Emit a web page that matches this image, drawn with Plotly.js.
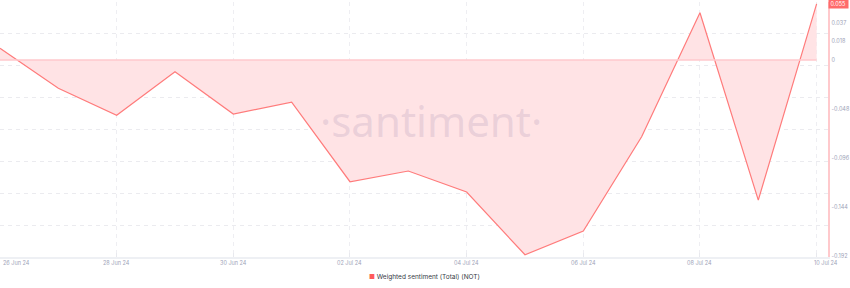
<!DOCTYPE html>
<html>
<head>
<meta charset="utf-8">
<script src="https://cdn.plot.ly/plotly-3.0.1.min.js"></script>
<style>
  html, body { margin: 0; padding: 0; background: #fff; }
  #chart { width: 850px; height: 288px; }
</style>
</head>
<body>
<div id="chart"></div>
<script>
// Daily weighted sentiment for NOT
const dates = [
  '2024-06-26', '2024-06-27', '2024-06-28', '2024-06-29', '2024-06-30',
  '2024-07-01', '2024-07-02', '2024-07-03', '2024-07-04', '2024-07-05',
  '2024-07-06', '2024-07-07', '2024-07-08', '2024-07-09', '2024-07-10'
];
const sentiment = [
  0.0115, -0.0277, -0.0542, -0.0115, -0.0529,
  -0.0412, -0.1193, -0.1088, -0.1294, -0.1909,
  -0.1676, -0.0752, 0.0464, -0.1373, 0.055
];
const seriesName = 'Weighted sentiment (Total) (NOT)';

// Axis labels
const yTickVals = [0.0367, 0.0183, 0, -0.048, -0.096, -0.144, -0.192];
const yTickText = ['0.037', '0.018', '0', '-0.048', '-0.096', '-0.144', '-0.192'];
const xTickVals = ['2024-06-26', '2024-06-28', '2024-06-30', '2024-07-02', '2024-07-04', '2024-07-06', '2024-07-08', '2024-07-10'];
const xTickText = ['26 Jun 24', '28 Jun 24', '30 Jun 24', '02 Jul 24', '04 Jul 24', '06 Jul 24', '08 Jul 24', '10 Jul 24'];

const LINE = '#ff7b7b';
const FILL = '#ffe3e5';
const AXIS_TXT = '#9ea3b8';
const FONT = 'Inter, "Open Sans", sans-serif';

const traces = [
  {
    x: dates, y: sentiment, name: seriesName,
    type: 'scatter', mode: 'lines',
    line: { color: LINE, width: 1.2 },
    fill: 'tozeroy', fillcolor: FILL,
    showlegend: false, hoverinfo: 'x+y'
  },
  // invisible helper on a second axis that carries the evenly spaced grid
  { x: [dates[0]], y: [0], yaxis: 'y2', mode: 'markers', marker: { opacity: 0 }, showlegend: false, hoverinfo: 'skip' }
];

const last = sentiment[sentiment.length - 1];
const annotations = [];

// watermark
annotations.push({
  xref: 'paper', yref: 'paper', x: 0.52, y: 0.535, xanchor: 'center', yanchor: 'middle',
  text: '·santiment·', showarrow: false,
  font: { family: '"Noto Sans", sans-serif', size: 42, color: 'rgba(150,130,170,0.2)' }
});

// x tick labels
xTickVals.forEach((d, i) => {
  let xanchor = 'center', xshift = 0;
  if (i === 0) { xanchor = 'left'; xshift = 1; }
  if (i === xTickVals.length - 1) { xshift = 9; }
  annotations.push({
    xref: 'x', yref: 'paper', x: d, y: 0, yanchor: 'top', xanchor: xanchor,
    xshift: xshift, yshift: -1, showarrow: false, text: xTickText[i],
    font: { family: FONT, size: 5.5, color: AXIS_TXT }
  });
});

// current value marker on the right axis
annotations.push({
  xref: 'paper', yref: 'y', x: 1, y: last, xanchor: 'left', yanchor: 'middle',
  xshift: 0, showarrow: false, text: last.toFixed(3),
  bgcolor: '#ff6b6b', borderpad: 1.5,
  font: { family: FONT, size: 5.5, color: '#ffffff' }
});

// legend
annotations.push({
  xref: 'paper', yref: 'paper', x: 0.513, y: -0.078, xanchor: 'center', yanchor: 'middle',
  showarrow: false,
  text: '<span style="color:#ff5a5a">■</span> ' + seriesName,
  font: { family: FONT, size: 6.5, color: '#353a45' }
});

const layout = {
  width: 850, height: 288,
  margin: { l: 0, r: 22, t: 2, b: 31, pad: 0 },
  paper_bgcolor: '#ffffff', plot_bgcolor: '#ffffff',
  font: { family: FONT, size: 5.5, color: AXIS_TXT },
  xaxis: {
    type: 'date',
    range: ['2024-06-26 00:00', '2024-07-10 04:41'],
    tickvals: xTickVals, showticklabels: false,
    showgrid: true, gridcolor: '#eeeef2', griddash: '4px,4px', gridwidth: 1,
    ticks: 'inside', ticklen: 4, tickcolor: '#e8e9ee',
    showline: true, linecolor: '#eef0f4', linewidth: 2,
    zeroline: false, fixedrange: true
  },
  yaxis: {
    side: 'right', range: [-0.1931, 0.0569],
    tickvals: yTickVals, ticktext: yTickText,
    showgrid: false, zeroline: false,
    showline: true, linecolor: '#ffc9cc', linewidth: 1.5,
    ticks: '', ticklabelstandoff: 1,
    tickfont: { family: FONT, size: 5.5, color: AXIS_TXT },
    fixedrange: true
  },
  yaxis2: {
    overlaying: 'y', side: 'right', range: [0, 8], dtick: 1,
    showticklabels: false, showgrid: true, gridcolor: '#ebebef', griddash: '4px,4px', gridwidth: 1,
    zeroline: false, showline: false, fixedrange: true
  },
  shapes: [
    { type: 'line', xref: 'x', yref: 'y', x0: dates[0], x1: dates[dates.length - 1], y0: 0, y1: 0,
      line: { color: '#ffc9cc', width: 1.5 }, layer: 'above' }
  ],
  annotations: annotations,
  showlegend: false
};

Plotly.newPlot('chart', traces, layout, { displayModeBar: false, staticPlot: true });
</script>
</body>
</html>
